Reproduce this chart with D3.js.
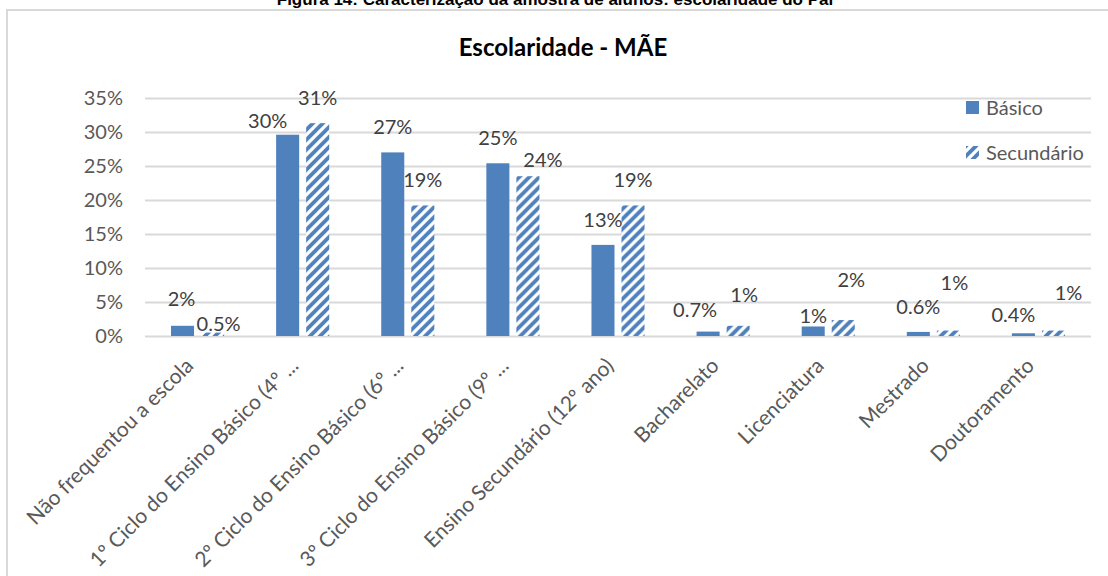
<!DOCTYPE html>
<html>
<head>
<meta charset="utf-8">
<script src="https://cdn.jsdelivr.net/npm/d3@7"></script>
<style>
  body { margin: 0; background: #fff; }
  svg text { font-family: Lato, "Open Sans", sans-serif; }
</style>
</head>
<body>
<svg id="chart" width="1108" height="576"></svg>
<script>
// data
let categories = [
    "Não frequentou a escola",
    "1º Ciclo do Ensino Básico (4º ...",
    "2º Ciclo do Ensino Básico (6º ...",
    "3º Ciclo do Ensino Básico (9º ...",
    "Ensino Secundário (12º ano)",
    "Bacharelato",
    "Licenciatura",
    "Mestrado",
    "Doutoramento"
]
let seriesNames = ["Básico", "Secundário"]
let basicoValues = [1.5, 29.6, 27.0, 25.4, 13.4, 0.65, 1.4, 0.6, 0.4]
let secundarioValues = [0.5, 31.3, 19.2, 23.5, 19.2, 1.5, 2.35, 0.8, 0.8]
let basicoLabels = ["2%", "30%", "27%", "25%", "13%", "0.7%", "1%", "0.6%", "0.4%"]
let secundarioLabels = ["0.5%", "31%", "19%", "24%", "19%", "1%", "2%", "1%", "1%"]
let yTicks = [0, 5, 10, 15, 20, 25, 30, 35]

// label nudges (dx, dy) as placed in the original
let basicoNudge = [[-1, -2], [-20, 11], [0, 0], [0, 0], [0, 0], [-13, 3], [0, 15], [0, 0], [-10, 7]]
let secundarioNudge = [[6, 16], [0, 0], [0, 0], [15, 9], [0, 0], [6, -6], [8, -15], [6, -23], [15, -13]]

let blue = "#4F81BD"
let gridColor = "#D9D9D9"
let textColor = "#595959"

let svg = d3.select("#chart")

// pattern for Secundário
let defs = svg.append("defs")
let pat = defs.append("pattern")
    .attr("id", "hatch")
    .attr("patternUnits", "userSpaceOnUse")
    .attr("width", 10)
    .attr("height", 10)
pat.append("rect").attr("width", 10).attr("height", 10).attr("fill", "#fff")
pat.append("path")
    .attr("d", "M-2.5,2.5 L2.5,-2.5 M0,10 L10,0 M7.5,12.5 L12.5,7.5")
    .attr("stroke", blue)
    .attr("stroke-width", 3.8)

// caption above the frame (only its lower part shows)
svg.append("text")
    .attr("x", 555)
    .attr("y", 5)
    .attr("text-anchor", "middle")
    .style("font-family", "'Liberation Sans', Arial, sans-serif")
    .style("font-weight", "bold")
    .style("font-size", "17px")
    .attr("fill", "#000")
    .text("Figura 14: Caracterização da amostra de alunos: escolaridade do Pai")

// chart frame
svg.append("path")
    .attr("d", "M7,576 L7,10 L1108,10")
    .attr("fill", "none")
    .attr("stroke", gridColor)
    .attr("stroke-width", 2)

// title
svg.append("text")
    .attr("x", 563)
    .attr("y", 56)
    .attr("text-anchor", "middle")
    .style("font-weight", "bold")
    .style("font-size", "24px")
    .attr("fill", "#000")
    .text("Escolaridade - MÃE")

let plotLeft = 145, plotRight = 1091, plotTop = 98, plotBottom = 336

let x = d3.scaleBand()
    .domain(categories)
    .range([plotLeft, plotRight])
    .paddingInner(0.495)
    .paddingOuter(0.2475)

let x1 = d3.scaleBand()
    .domain(seriesNames)
    .range([0, x.bandwidth()])
    .paddingInner(7 / 30)

let y = d3.scaleLinear().domain([0, 35]).range([plotBottom, plotTop])

// gridlines + y labels
let yAxis = svg.append("g")
    .attr("transform", `translate(${plotLeft},0)`)
    .call(d3.axisLeft(y).tickValues(yTicks).tickSize(-(plotRight - plotLeft)).tickFormat(d => d + "%"))
yAxis.select(".domain").remove()
yAxis.selectAll(".tick line").attr("stroke", gridColor).attr("stroke-width", 2)
yAxis.selectAll(".tick text")
    .attr("x", -22)
    .attr("fill", textColor)
    .style("font-size", "20px")
    .style("font-family", "Lato, sans-serif")

// bars
let rows = categories.map((c, i) => ({
    cat: c,
    items: [
        { s: "Básico", v: basicoValues[i], label: basicoLabels[i], nudge: basicoNudge[i] },
        { s: "Secundário", v: secundarioValues[i], label: secundarioLabels[i], nudge: secundarioNudge[i] }
    ]
}))

let groups = svg.selectAll(".grp")
    .data(rows)
    .enter()
    .append("g")
    .attr("class", "grp")
    .attr("transform", d => `translate(${x(d.cat)},0)`)

groups.selectAll("rect")
    .data(d => d.items)
    .enter()
    .append("rect")
    .attr("x", d => x1(d.s))
    .attr("y", d => y(d.v))
    .attr("width", x1.bandwidth())
    .attr("height", d => y(0) - y(d.v))
    .attr("fill", d => d.s === "Básico" ? blue : "url(#hatch)")

groups.selectAll("text.lbl")
    .data(d => d.items)
    .enter()
    .append("text")
    .attr("class", "lbl")
    .attr("x", d => x1(d.s) + x1.bandwidth() / 2 + d.nudge[0])
    .attr("y", d => y(d.v) - 25 + d.nudge[1])
    .attr("dy", "0.35em")
    .attr("text-anchor", "middle")
    .attr("fill", "#404040")
    .style("font-size", "20px")
    .text(d => d.label)

// category labels
svg.append("g")
    .selectAll("text")
    .data(categories)
    .enter()
    .append("text")
    .attr("transform", d => `translate(${x(d) + x.bandwidth() / 2 - 3},${plotBottom + 31}) rotate(-45)`)
    .attr("text-anchor", "end")
    .attr("fill", textColor)
    .style("font-size", "21px")
    .text(d => d)

// legend
let legend = svg.append("g").attr("transform", "translate(966,101)")
seriesNames.forEach((name, i) => {
    let g = legend.append("g").attr("transform", `translate(0,${i * 45})`)
    g.append("rect")
        .attr("width", 13)
        .attr("height", 13)
        .attr("fill", i === 0 ? blue : "url(#hatch)")
    g.append("text")
        .attr("x", 20)
        .attr("y", 7)
        .attr("dy", "0.35em")
        .attr("fill", textColor)
        .style("font-size", "20px")
        .text(name)
})
</script>
</body>
</html>
